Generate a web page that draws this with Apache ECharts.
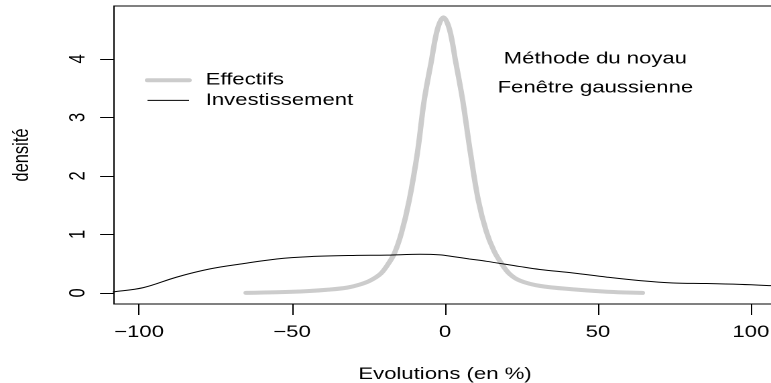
<!DOCTYPE html>
<html>
<head>
<meta charset="utf-8">
<script src="https://cdn.jsdelivr.net/npm/echarts@6/dist/echarts.min.js"></script>
<style>
  html, body { margin: 0; padding: 0; background: #fff; width: 771px; height: 383px; overflow: hidden; }
  #wrap { position: relative; width: 771px; height: 383px; overflow: hidden; }
  /* le graphique d'origine est étiré horizontalement (≈1.34) : on fait pareil */
  #main { position: absolute; left: 0; top: 0; width: 575px; height: 383px; transform: scaleX(1.3409); transform-origin: 0 0; }
</style>
</head>
<body>
<div id="wrap"><div id="main"></div></div>
<script>
// densité estimée (méthode du noyau)
const effX = [-65, -55, -45, -38, -32, -28, -24.5, -21, -18.5, -16.5, -14.2, -11.7, -9, -6.8, -4.5, -2.5, -0.5, 1.5, 3.5, 5.8, 8.3, 10.9, 13.5, 16, 18.5, 21, 24.5, 31, 42, 53, 64.5];
const effY = [0.0, 0.01, 0.03, 0.055, 0.09, 0.14, 0.21, 0.33, 0.5, 0.68, 1.03, 1.58, 2.4, 3.29, 3.95, 4.5, 4.71, 4.5, 3.95, 3.29, 2.4, 1.58, 1.05, 0.72, 0.5, 0.33, 0.21, 0.12, 0.06, 0.02, 0.0];

const invX = [-112, -108, -98.6, -87.7, -76.8, -65.9, -55, -44.1, -30, -19, -8.2, -1.6, 2.7, 8, 13.6, 24.5, 31, 41.9, 52.8, 63.7, 74.6, 85.5, 96.4, 108, 112];
const invY = [0.0, 0.02, 0.09, 0.27, 0.41, 0.5, 0.58, 0.62, 0.64, 0.645, 0.66, 0.65, 0.62, 0.58, 0.54, 0.45, 0.4, 0.34, 0.27, 0.21, 0.17, 0.16, 0.145, 0.12, 0.11];

const xTicks = [-100, -50, 0, 50, 100];
const yTicks = [0, 1, 2, 3, 4];

const font = '"Liberation Sans", Arial, sans-serif';
const fs = 16.5;

function pairs(xs, ys) {
  return xs.map((x, i) => [x, ys[i]]);
}

const chart = echarts.init(document.getElementById("main"), null, { renderer: "canvas", devicePixelRatio: 2 });

const options = {
  animation: false,
  textStyle: { fontFamily: font, color: "#000" },
  grid: {
    left: 85,
    top: 6,
    right: -3.7, // la bordure droite sort de l'image
    bottom: 79,
    outerBoundsMode: "none", // ne pas réduire la grille pour y faire tenir les textes
    containLabel: false,
    show: true,
    borderColor: "#000",
    borderWidth: 1,
  },
  legend: {
    orient: "vertical",
    left: 108,
    top: 71.7,
    padding: 0,
    itemWidth: 31,
    itemHeight: 14,
    itemGap: 3.2,
    textStyle: { fontSize: fs, lineHeight: 14, color: "#000", fontFamily: font, padding: [0, 0, 0, 7.4] },
    data: [
      { name: "Effectifs", itemStyle: { opacity: 0 }, lineStyle: { width: 4, color: "#cccccc" } },
      { name: "Investissement", itemStyle: { opacity: 0 }, lineStyle: { width: 1, color: "#000" } },
    ],
  },
  xAxis: {
    type: "value",
    min: -108.2,
    max: 108.2,
    name: "Evolutions (en %)",
    nameLocation: "middle",
    nameGap: 62,
    nameTextStyle: { fontSize: fs, color: "#000" },
    axisLine: { show: false, onZero: false },
    splitLine: { show: false },
    axisTick: {
      show: true,
      length: 11,
      customValues: xTicks,
      lineStyle: { color: "#000", width: 1 },
    },
    axisLabel: {
      customValues: xTicks,
      fontSize: fs,
      color: "#000",
      margin: 20,
      formatter: (v) => String(v).replace("-", "\u2212"),
    },
  },
  yAxis: {
    type: "value",
    min: -0.19,
    max: 4.905,
    name: "densité",
    nameLocation: "middle",
    nameRotate: 90,
    nameGap: 60,
    nameTextStyle: { fontSize: fs, color: "#000" },
    axisLine: { show: false, onZero: false },
    splitLine: { show: false },
    axisTick: {
      show: true,
      length: 10.4,
      customValues: yTicks,
      lineStyle: { color: "#000", width: 1 },
    },
    axisLabel: {
      customValues: yTicks,
      fontSize: fs,
      color: "#000",
      rotate: 90,
      margin: 18,
    },
  },
  graphic: [
    {
      type: "text",
      x: 444,
      y: 59,
      style: { text: "Méthode du noyau", align: "center", verticalAlign: "middle", font: fs + "px " + font, fill: "#000" },
    },
    {
      type: "text",
      x: 444,
      y: 88,
      style: { text: "Fenêtre gaussienne", align: "center", verticalAlign: "middle", font: fs + "px " + font, fill: "#000" },
    },
  ],
  series: [
    {
      name: "Effectifs",
      type: "line",
      data: pairs(effX, effY),
      smooth: 0.35,
      symbol: "none",
      lineStyle: { color: "#cccccc", width: 4, cap: "round" },
      itemStyle: { color: "#cccccc" },
      z: 2,
    },
    {
      name: "Investissement",
      type: "line",
      data: pairs(invX, invY),
      smooth: 0.35,
      symbol: "none",
      lineStyle: { color: "#000", width: 1 },
      itemStyle: { color: "#000" },
      z: 3,
    },
  ],
};

chart.setOption(options);
</script>
</body>
</html>
